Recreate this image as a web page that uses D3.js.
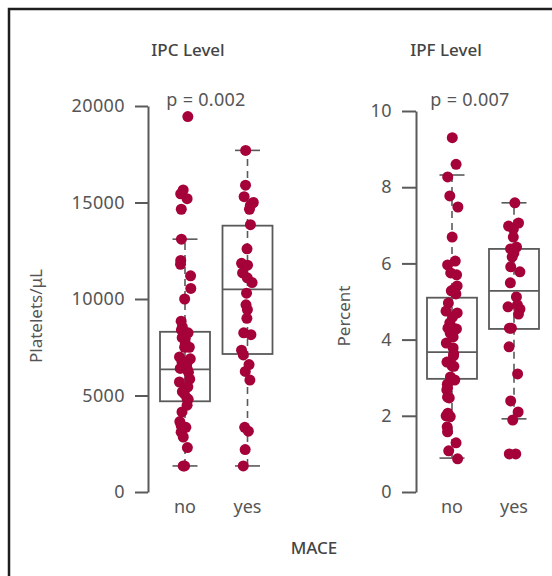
<!DOCTYPE html>
<html>
<head>
<meta charset="utf-8">
<script src="https://cdn.jsdelivr.net/npm/d3@7"></script>
<style>
  body { margin: 0; background: #fff; }
  svg { display: block; font-family: "Noto Sans", sans-serif; }
</style>
</head>
<body>
<div id="chart"></div>
<script>
// groupes
var groups = ["no", "yes"];

// IPC (Platelets/uL)
var ipcNo = [19450, 15650, 15450, 15200, 14650, 13100, 12000, 11800, 11200, 10550, 10000,
  8850, 8550, 8400, 8250, 8000, 7950, 7700, 7500, 7500, 7000, 6900, 6750, 6600, 6450, 6400, 6350,
  6200, 5850, 5700, 5450, 5400, 5200, 5100, 4800, 4850, 4500, 4150, 3650, 3450, 3350, 3100,
  2850, 2300, 1350, 1350];
var ipcYes = [17700, 15900, 15300, 15000, 14850, 14650, 13850, 12600, 11850, 11750, 11350, 11100,
  10850, 10300, 9700, 9450, 9000, 8250, 8150, 7350, 7100, 6600, 6250, 5800, 3350, 3150, 2200, 1350];
// boite: min, q1, mediane, q3, max
var ipcBoxNo = [1350, 4700, 6350, 8300, 13100];
var ipcBoxYes = [1350, 7150, 10500, 13800, 17700];

// IPF (Percent)
var ipfNo = [9.3, 8.6, 8.27, 7.77, 7.48, 6.69, 6.06, 5.96, 5.75, 5.7, 5.41, 5.33, 5.28, 5.2, 4.96,
  4.75, 4.7, 4.59, 4.44, 4.3, 4.3, 4.28, 4.17, 4.07, 3.91, 3.78, 3.62, 3.57, 3.41, 3.31, 3.3, 3.02,
  2.94, 2.83, 2.73, 2.68, 2.49, 2.47, 2.07, 2.0, 1.98, 1.71, 1.58, 1.29, 1.08, 0.87];
var ipfYes = [7.59, 7.06, 6.98, 6.9, 6.69, 6.43, 6.38, 6.27, 6.17, 5.91, 5.78, 5.49, 5.12, 4.91,
  4.86, 4.8, 4.67, 4.3, 4.3, 3.81, 3.1, 2.39, 2.1, 1.89, 1.0, 1.0];
var ipfBoxNo = [0.89, 2.97, 3.67, 5.1, 8.32];
var ipfBoxYes = [1.92, 4.28, 5.28, 6.38, 7.59];

var ipcTicks = [0, 5000, 10000, 15000, 20000];
var ipfTicks = [0, 2, 4, 6, 8, 10];

var W = 552, H = 576;
var pointColor = "#a5023a";
var lineColor = "#5a5a5a";

var svg = d3.select("#chart").append("svg")
  .attr("width", W)
  .attr("height", H);

// cadre
svg.append("rect")
  .attr("x", 9).attr("y", 9)
  .attr("width", W + 20).attr("height", H + 20)
  .attr("fill", "none")
  .attr("stroke", "#1e1e1e")
  .attr("stroke-width", 2.5);

var rnd = d3.randomUniform.source(d3.randomLcg(0.42))(-1, 1);

function drawPanel(opt) {
  var y = d3.scaleLinear().domain(opt.domain).range([492, opt.top]);
  var x = d3.scalePoint().domain(groups).range(opt.xr);
  var g = svg.append("g");

  // axe y
  var axis = d3.axisLeft(y).tickValues(opt.ticks).tickFormat(d3.format("d"))
    .tickSize(opt.tick).tickPadding(opt.pad).tickSizeOuter(0);
  var ax = g.append("g")
    .attr("transform", "translate(" + opt.axisX + ",0)")
    .call(axis);
  ax.select(".domain").attr("stroke", lineColor).attr("stroke-width", 2);
  ax.selectAll(".tick line").attr("stroke", lineColor).attr("stroke-width", 2);
  ax.selectAll(".tick text")
    .attr("fill", "#555")
    .style("font-size", "18px")
    .style("letter-spacing", "0.4px")
    .style("font-family", "Noto Sans");

  // etiquettes x
  g.selectAll(".xl").data(groups).enter().append("text")
    .attr("x", function (d) { return x(d); })
    .attr("y", 513)
    .attr("text-anchor", "middle")
    .attr("fill", "#555")
    .style("font-size", "18px")
    .text(function (d) { return d; });

  // titre
  g.append("text")
    .attr("x", opt.titleX).attr("y", 56)
    .attr("text-anchor", "middle")
    .attr("fill", "#444")
    .style("font-size", "17px")
    .style("font-weight", 500)
    .text(opt.title);

  // p-value
  g.append("text")
    .attr("x", opt.pX).attr("y", 106)
    .attr("text-anchor", "middle")
    .attr("fill", "#555")
    .style("font-size", "18px")
    .style("letter-spacing", "0.3px")
    .text(opt.p);

  // label y
  g.append("text")
    .attr("transform", "translate(" + opt.labelX + ",316) rotate(-90)")
    .attr("text-anchor", "middle")
    .attr("fill", "#555")
    .style("font-size", "17px")
    .text(opt.label);

  var bw = 50;
  opt.boxes.forEach(function (b, i) {
    var cx = x(groups[i]);
    // moustaches
    g.append("line")
      .attr("x1", cx).attr("x2", cx)
      .attr("y1", y(b[0])).attr("y2", y(b[4]))
      .attr("stroke", lineColor).attr("stroke-width", 1.6)
      .attr("stroke-dasharray", "7,5");
    [b[0], b[4]].forEach(function (v) {
      g.append("line")
        .attr("x1", cx - bw / 4).attr("x2", cx + bw / 4)
        .attr("y1", y(v)).attr("y2", y(v))
        .attr("stroke", lineColor).attr("stroke-width", 1.6);
    });
    g.append("rect")
      .attr("x", cx - bw / 2).attr("width", bw)
      .attr("y", y(b[3])).attr("height", y(b[1]) - y(b[3]))
      .attr("fill", "none")
      .attr("stroke", lineColor).attr("stroke-width", 1.8);
    g.append("line")
      .attr("x1", cx - bw / 2).attr("x2", cx + bw / 2)
      .attr("y1", y(b[2])).attr("y2", y(b[2]))
      .attr("stroke", lineColor).attr("stroke-width", 1.8);
  });

  // points
  opt.points.forEach(function (arr, i) {
    var cx = x(groups[i]);
    g.selectAll(".pt" + i).data(arr).enter().append("circle")
      .attr("cx", function () { return cx + rnd() * 6; })
      .attr("cy", function (d) { return y(d); })
      .attr("r", 5.5)
      .attr("fill", pointColor);
  });
}

drawPanel({
  domain: [0, 20000], top: 106, ticks: ipcTicks, axisX: 148, tick: 13, pad: 10,
  xr: [185, 247.5], title: "IPC Level", titleX: 188, p: "p = 0.002", pX: 206,
  label: "Platelets/\u03bcL", labelX: 42,
  boxes: [ipcBoxNo, ipcBoxYes], points: [ipcNo, ipcYes]
});

drawPanel({
  domain: [0, 10], top: 111, ticks: ipfTicks, axisX: 416, tick: 14, pad: 10,
  xr: [452, 514], title: "IPF Level", titleX: 446, p: "p = 0.007", pX: 470,
  label: "Percent", labelX: 350,
  boxes: [ipfBoxNo, ipfBoxYes], points: [ipfNo, ipfYes]
});

// titre axe x
svg.append("text")
  .attr("x", 314).attr("y", 554)
  .attr("text-anchor", "middle")
  .attr("fill", "#444")
  .style("font-size", "17px")
  .style("font-weight", 500)
  .text("MACE");
</script>
</body>
</html>
